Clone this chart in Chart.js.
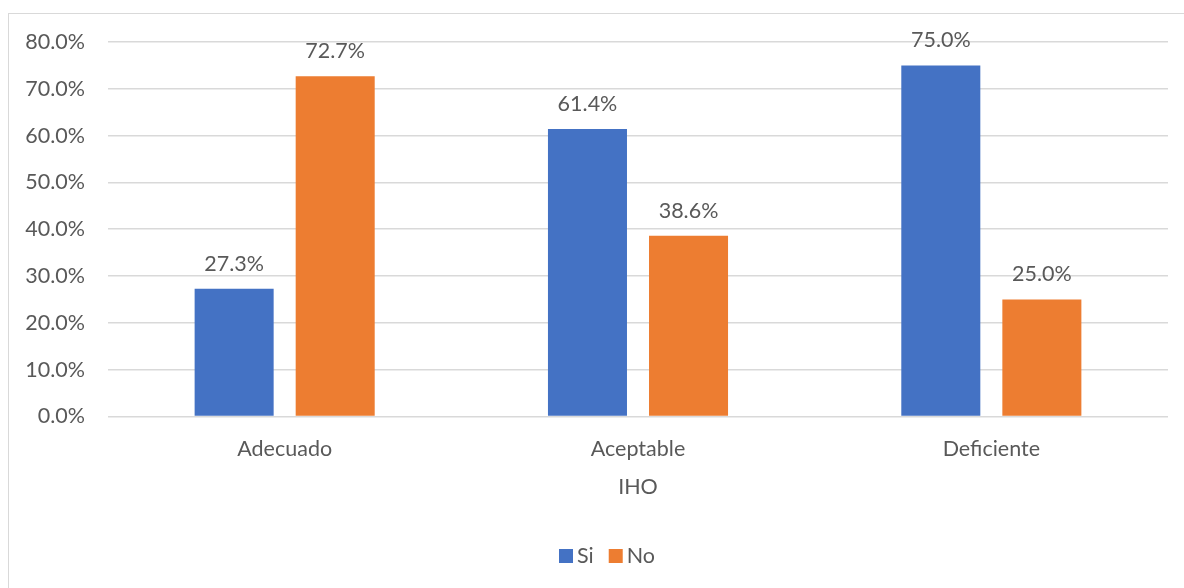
<!DOCTYPE html>
<html>
<head>
<meta charset="utf-8">
<script src="https://cdn.jsdelivr.net/npm/chart.js@4.4.1/dist/chart.umd.min.js"></script>
<style>
  html, body { margin: 0; padding: 0; background: #fff; }
  #wrap { position: relative; width: 1184px; height: 588px; overflow: hidden; }
  #frame { position: absolute; left: 8px; top: 13px; width: 1200px; height: 600px; border: 1px solid #d9d9d9; box-sizing: border-box; }
  canvas { position: absolute; left: 0; top: 0; }
</style>
</head>
<body>
<div id="wrap">
  <div id="frame"></div>
  <canvas id="c" width="1184" height="588"></canvas>
</div>
<script>
const categories = ['Adecuado', 'Aceptable', 'Deficiente'];
const siValues = [27.3, 61.4, 75.0];
const noValues = [72.7, 38.6, 25.0];
const seriesNames = ['Si', 'No'];
const axisTitle = 'IHO';

const FONT = 'Lato, "Open Sans", sans-serif';
const TEXT = '#595959';
const SIZE = 21.5;

// Draws the percentage above each bar
const valueLabels = {
  id: 'valueLabels',
  afterDatasetsDraw(chart) {
    const ctx = chart.ctx;
    ctx.save();
    ctx.font = SIZE + 'px ' + FONT;
    ctx.fillStyle = TEXT;
    ctx.textAlign = 'center';
    ctx.textBaseline = 'middle';
    chart.data.datasets.forEach((ds, i) => {
      chart.getDatasetMeta(i).data.forEach((bar, j) => {
        ctx.fillText(ds.data[j].toFixed(1) + '%', bar.x, bar.y - 25);
      });
    });
    ctx.restore();
  }
};

// Compact legend below the axis title: square swatch followed closely by the series name
const compactLegend = {
  id: 'compactLegend',
  afterDraw(chart) {
    const ctx = chart.ctx;
    const box = 14, gap = 4, itemGap = 15;
    const centerX = 607, centerY = 556;
    ctx.save();
    ctx.font = SIZE + 'px ' + FONT;
    ctx.textBaseline = 'middle';
    ctx.textAlign = 'left';
    const items = chart.data.datasets.map(ds => ({ text: ds.label, color: ds.backgroundColor, w: ctx.measureText(ds.label).width }));
    const total = items.reduce((s, it) => s + box + gap + it.w, 0) + itemGap * (items.length - 1);
    let x = centerX - total / 2;
    items.forEach(it => {
      ctx.fillStyle = it.color;
      ctx.fillRect(x, centerY - box / 2, box, box);
      x += box + gap;
      ctx.fillStyle = TEXT;
      ctx.fillText(it.text, x, centerY);
      x += it.w + itemGap;
    });
    ctx.restore();
  }
};

new Chart(document.getElementById('c'), {
  type: 'bar',
  data: {
    labels: categories,
    datasets: [
      { label: seriesNames[0], data: siValues, backgroundColor: '#4472C4', categoryPercentage: 0.572, barPercentage: 0.782 },
      { label: seriesNames[1], data: noValues, backgroundColor: '#ED7D31', categoryPercentage: 0.572, barPercentage: 0.782 }
    ]
  },
  options: {
    responsive: false,
    animation: false,
    layout: { padding: { left: 0, right: 16, top: 42, bottom: 50 } },
    plugins: {
      legend: { display: false },
      tooltip: { enabled: false }
    },
    scales: {
      x: {
        grid: { display: false },
        border: { display: false },
        ticks: { color: TEXT, font: { family: FONT, size: SIZE }, padding: 11.5 },
        title: { display: true, text: axisTitle, color: TEXT, font: { family: FONT, size: SIZE }, padding: { top: 1, bottom: 38 } }
      },
      y: {
        min: 0, max: 80,
        grid: { color: '#d9d9d9', lineWidth: 1.5, drawTicks: false },
        border: { display: false },
        ticks: { stepSize: 10, color: TEXT, font: { family: FONT, size: SIZE }, padding: 23, callback: v => v.toFixed(1) + '%' },
        afterFit(scale) { scale.width = 108; }
      }
    }
  },
  plugins: [valueLabels, compactLegend]
});
</script>
</body>
</html>
